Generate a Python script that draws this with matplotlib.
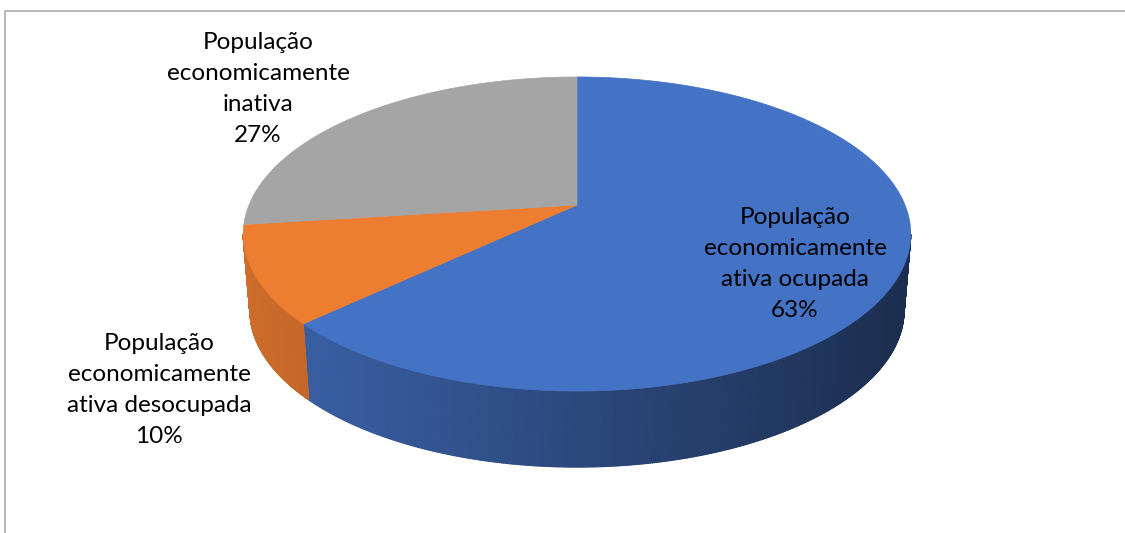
import numpy as np
import matplotlib.pyplot as plt
from matplotlib.patches import Polygon
from matplotlib.collections import PolyCollection
from matplotlib.colors import to_rgb

labels = ['População\neconomicamente\nativa ocupada',
          'População\neconomicamente\nativa desocupada',
          'População\neconomicamente\ninativa']
values = [63, 10, 27]
colors = ['#4472C4', '#ED7D31', '#A5A5A5']
label_xy = [(795, 264), (159, 390), (258, 89)]

# pie geometry in pixel units (perspective view of a tilted disc)
CX, CY = 577, 205
A, B, K = 328, 151.7, 0.1848
DEPTH = 76
SHRINK = 0.98


def project(theta, drop=False):
    u, v = np.cos(theta), np.sin(theta)
    w = 1 + K * v
    x = CX + A * u / w
    y = CY - B * v / w
    if drop:
        x = CX + (x - CX) * SHRINK
        y = y + DEPTH
    return x, y


def shade(x):
    # side wall gets darker towards the right
    t = np.clip((x - 243) / (911 - 243), 0, 1)
    return 0.87 - 0.47 * t


fig = plt.figure(figsize=(11.25, 5.33), dpi=100)
ax = fig.add_axes([0, 0, 1, 1])
ax.set_xlim(0, 1125)
ax.set_ylim(533, 0)
ax.axis('off')

# chart frame
ax.plot([5, 5, 1125], [533, 11, 11], color='#ABABAB', lw=1.2)

total = float(sum(values))
bounds = np.radians(90 - 360 * np.concatenate([[0], np.cumsum(values)]) / total)

t_right = -np.arcsin(K)
t_left = -np.pi + np.arcsin(K)

# side walls
for i, col in enumerate(colors):
    a0, a1 = bounds[i], bounds[i + 1]
    hi, lo = min(a0, t_right), max(a1, t_left)
    if hi <= lo:
        continue
    ts = np.linspace(hi, lo, 400)
    xt, yt = project(ts)
    xb, yb = project(ts, drop=True)
    quads, fcs = [], []
    base = np.array(to_rgb(col))
    for j in range(len(ts) - 1):
        quads.append([(xt[j], yt[j]), (xt[j + 1], yt[j + 1]),
                      (xb[j + 1], yb[j + 1]), (xb[j], yb[j])])
        fcs.append(base * shade((xt[j] + xt[j + 1]) / 2))
    ax.add_collection(PolyCollection(quads, facecolors=fcs, edgecolors=fcs,
                                     linewidths=0.8, zorder=2))

# top faces
for i, col in enumerate(colors):
    ts = np.linspace(bounds[i], bounds[i + 1], 300)
    xs, ys = project(ts)
    pts = [(CX, CY)] + list(zip(xs, ys))
    ax.add_patch(Polygon(pts, closed=True, facecolor=col, edgecolor=col,
                         lw=0.5, zorder=3))

# data labels
for lab, v, (x, y) in zip(labels, values, label_xy):
    ax.text(x, y, f'{lab}\n{v / total:.0%}', ha='center', va='center',
            fontsize=17.5, family='Lato', color='black', linespacing=1.6,
            zorder=5)

fig.savefig('out.png', dpi=100)
